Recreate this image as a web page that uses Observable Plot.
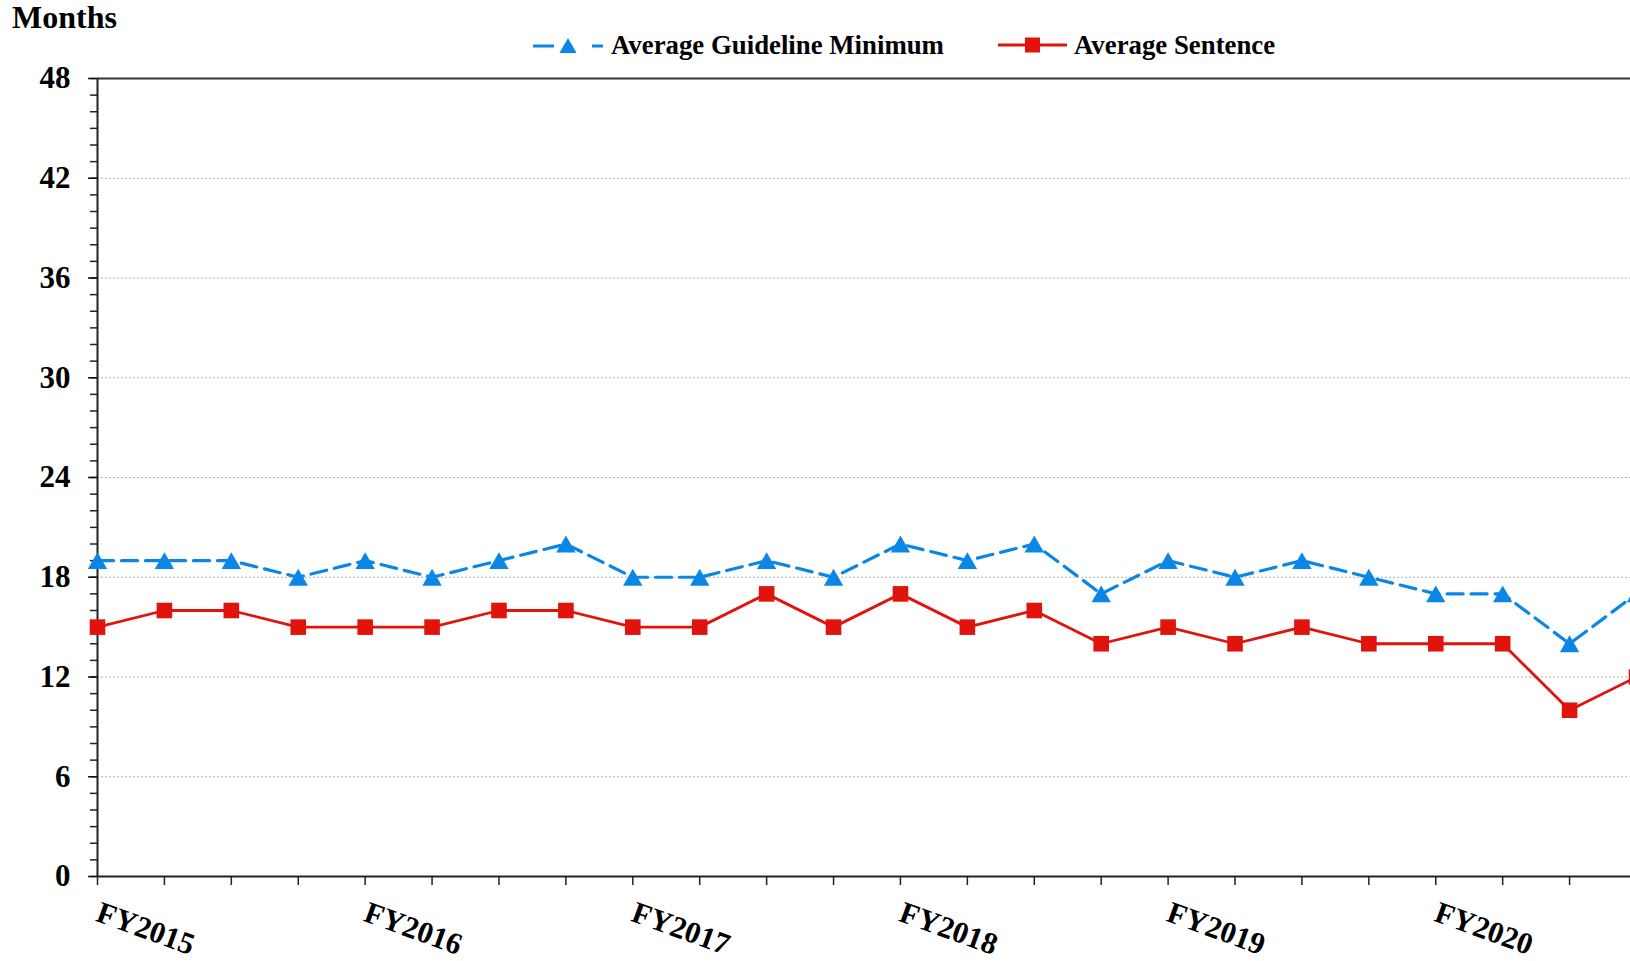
<!DOCTYPE html>
<html>
<head>
<meta charset="utf-8">
<script src="https://cdn.jsdelivr.net/npm/d3@7"></script>
<script src="https://cdn.jsdelivr.net/npm/@observablehq/plot@0.6"></script>
<style>
html, body { margin: 0; padding: 0; background: #fff; overflow: hidden; }
#header { display: block; }
#chart svg { display: block; }
</style>
</head>
<body>
<div id="header"></div>
<div id="chart"></div>
<script>
// ---- data ----
const quarters = [
  "FY2015 Q1","FY2015 Q2","FY2015 Q3","FY2015 Q4",
  "FY2016 Q1","FY2016 Q2","FY2016 Q3","FY2016 Q4",
  "FY2017 Q1","FY2017 Q2","FY2017 Q3","FY2017 Q4",
  "FY2018 Q1","FY2018 Q2","FY2018 Q3","FY2018 Q4",
  "FY2019 Q1","FY2019 Q2","FY2019 Q3","FY2019 Q4",
  "FY2020 Q1","FY2020 Q2","FY2020 Q3","FY2020 Q4"
];
const guidelineMinimum = [19,19,19,18,19,18,19,20,18,18,19,18,20,19,20,17,19,18,19,18,17,17,14,17];
const averageSentence  = [15,16,16,15,15,15,16,16,15,15,17,15,17,15,16,14,15,14,15,14,14,14,10,12];
const yTicks = [0,6,12,18,24,30,36,42,48];
const gridTicks = [6,12,18,24,30,36,42];
const minorTicks = d3.range(0, 49);
const fyLabels = ["FY2015","FY2016","FY2017","FY2018","FY2019","FY2020"];
const fyQuarters = ["FY2015 Q1","FY2016 Q1","FY2017 Q1","FY2018 Q1","FY2019 Q1","FY2020 Q1"];
const axisTitle = "Months";
const seriesNames = ["Average Guideline Minimum", "Average Sentence"];

const BLUE = "#0a86e6";
const RED = "#e0140c";
const FONT = '"Liberation Serif", "Times New Roman", serif';

// ---- header (axis title + legend) ----
const hdr = d3.select("#header").append("svg")
  .attr("width", 1630).attr("height", 60)
  .style("display", "block").style("overflow", "visible")
  .attr("font-family", FONT).attr("font-weight", "bold");
hdr.append("text").attr("x", 12).attr("y", 28).attr("font-size", 32).attr("fill", "#000").text(axisTitle);
// legend item 1
const l1 = hdr.append("g");
l1.append("line").attr("x1", 533).attr("x2", 554).attr("y1", 46).attr("y2", 46).attr("stroke", BLUE).attr("stroke-width", 3);
l1.append("line").attr("x1", 592).attr("x2", 603).attr("y1", 46).attr("y2", 46).attr("stroke", BLUE).attr("stroke-width", 3);
l1.append("path").attr("d", "M568,38L576.5,53L559.5,53Z").attr("fill", BLUE);
l1.append("text").attr("x", 611).attr("y", 54).attr("font-size", 26.8).attr("fill", "#000").text(seriesNames[0]);
// legend item 2
const l2 = hdr.append("g");
l2.append("line").attr("x1", 998).attr("x2", 1067).attr("y1", 45).attr("y2", 45).attr("stroke", RED).attr("stroke-width", 3);
l2.append("rect").attr("x", 1025).attr("y", 37.5).attr("width", 15).attr("height", 15).attr("fill", RED);
l2.append("text").attr("x", 1074).attr("y", 54).attr("font-size", 26.8).attr("fill", "#000").text(seriesNames[1]);

// ---- chart ----
const rows = quarters.map((q, i) => ({q, g: guidelineMinimum[i], s: averageSentence[i]}));
const fyRows = fyQuarters.map((q, i) => ({q, t: fyLabels[i]}));

const chart = Plot.plot({
  width: 1630,
  height: 901,
  marginTop: 18,
  marginBottom: 85,
  marginLeft: 97,
  marginRight: 0,
  style: {fontFamily: FONT, background: "#fff", overflow: "visible", maxWidth: "none", color: "#000"},
  x: {type: "point", domain: quarters, range: [97, 1636], padding: 0, round: false, label: null},
  y: {domain: [0, 48], label: null},
  marks: [
    Plot.gridY(gridTicks, {stroke: "#b0b0b0", strokeOpacity: 1, strokeDasharray: "2,2", strokeWidth: 1}),
    Plot.axisY(minorTicks, {tickSize: 7, text: null, stroke: "#222", strokeWidth: 1.5, label: null}),
    Plot.axisY(yTicks, {tickSize: 9, tickPadding: 18, fontSize: 31, fontWeight: "bold", stroke: "#111", strokeWidth: 1.5, fill: "#000", label: null}),
    Plot.axisX(quarters, {tickSize: 9, text: null, stroke: "#222", strokeWidth: 1.5, label: null}),
    Plot.ruleY([48], {stroke: "#333", strokeWidth: 2}),
    Plot.ruleY([0], {stroke: "#222", strokeWidth: 2}),
    Plot.ruleX([quarters[0]], {stroke: "#222", strokeWidth: 2}),
    Plot.line(rows, {x: "q", y: "g", stroke: BLUE, strokeWidth: 3.2, strokeDasharray: "16,8"}),
    Plot.dot(rows, {x: "q", y: "g", symbol: "triangle", r: 7.2, fill: BLUE, stroke: "none", dy: 2.8}),
    Plot.line(rows, {x: "q", y: "s", stroke: RED, strokeWidth: 2.8}),
    Plot.dot(rows, {x: "q", y: "s", symbol: "square", r: 8.8, fill: RED, stroke: "none"}),
    Plot.text(fyRows, {x: "q", text: "t", frameAnchor: "bottom", dx: -3, dy: 44, rotate: 20,
      textAnchor: "start", lineAnchor: "bottom", fontSize: 30.5, fontWeight: "bold", fill: "#000"})
  ]
});
document.getElementById("chart").appendChild(chart);
</script>
</body>
</html>
